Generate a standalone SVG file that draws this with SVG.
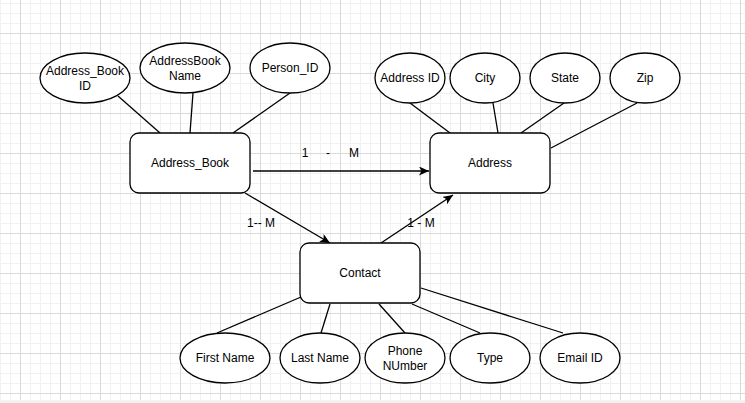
<svg xmlns="http://www.w3.org/2000/svg" width="745" height="403" viewBox="0 0 745 403">
<style>
.n{fill:#fff;stroke:#000;stroke-width:1.3}
.t{font-family:"Liberation Sans",Arial,sans-serif;font-size:12px;fill:#000;text-anchor:middle}
.c{stroke:#000;stroke-width:1.3;fill:none}
</style>
<defs>
<pattern id="minor" patternUnits="userSpaceOnUse" x="0" y="3" width="10" height="10">
<path d="M0.5 0V10M0 0.5H10" stroke="#f1f1f1" stroke-width="1" fill="none"/>
</pattern>
<pattern id="major" patternUnits="userSpaceOnUse" x="20" y="33" width="40" height="40">
<path d="M0.5 0V40M0 0.5H40" stroke="#dadada" stroke-width="1" fill="none"/>
</pattern>
<marker id="arr" markerUnits="userSpaceOnUse" markerWidth="12" markerHeight="10" refX="10" refY="4.5" orient="auto">
<path d="M0,0 L10,4.5 L0,9 L2.5,4.5 Z" fill="#000"/>
</marker>
</defs>
<rect width="745" height="403" fill="#fff"/>
<rect width="745" height="400" fill="url(#minor)"/>
<rect width="745" height="400" fill="url(#major)"/>
<rect y="400" width="745" height="3" fill="#f2f2f2"/>

<g id="connectors">
<line class="c" x1="118" y1="96" x2="160" y2="133"/>
<line class="c" x1="193" y1="93" x2="190" y2="133"/>
<line class="c" x1="290" y1="93" x2="233" y2="133"/>
<line class="c" x1="410" y1="103" x2="450" y2="133"/>
<line class="c" x1="493" y1="103" x2="498" y2="133"/>
<line class="c" x1="564" y1="103" x2="521" y2="133"/>
<line class="c" x1="637" y1="103" x2="551" y2="148"/>
<line class="c" x1="253" y1="171" x2="429" y2="171" marker-end="url(#arr)"/>
<line class="c" x1="245" y1="193" x2="330" y2="243" marker-end="url(#arr)"/>
<line class="c" x1="381" y1="243" x2="453" y2="195" marker-end="url(#arr)"/>
<line class="c" x1="301" y1="297" x2="217" y2="333"/>
<line class="c" x1="330" y1="304" x2="321" y2="333"/>
<line class="c" x1="379" y1="304" x2="405" y2="333"/>
<line class="c" x1="412" y1="304" x2="480" y2="333"/>
<line class="c" x1="421" y1="288" x2="563" y2="333"/>
<text class="t" x="305" y="157">1</text>
<text class="t" x="328" y="157">-</text>
<text class="t" x="354" y="157">M</text>
<text class="t" x="261" y="227">1-- M</text>
<text class="t" x="421" y="227">1 - M</text>
</g>

<g id="address_book">
<rect class="n" x="130" y="133" width="120" height="60" rx="9"/>
<text class="t" x="190" y="167">Address_Book</text>
</g>
<g id="address">
<rect class="n" x="430" y="133" width="120" height="60" rx="9"/>
<text class="t" x="490" y="167">Address</text>
</g>
<g id="contact">
<rect class="n" x="300" y="243" width="120" height="60" rx="9"/>
<text class="t" x="360" y="277">Contact</text>
</g>

<g id="attr_address_book_id">
<ellipse class="n" cx="85" cy="78" rx="45" ry="25"/>
<text class="t" x="85" y="75">Address_Book</text>
<text class="t" x="85" y="90">ID</text>
</g>
<g id="attr_addressbook_name">
<ellipse class="n" cx="185" cy="68" rx="45" ry="25"/>
<text class="t" x="185" y="65">AddressBook</text>
<text class="t" x="185" y="80">Name</text>
</g>
<g id="attr_person_id">
<ellipse class="n" cx="290" cy="68" rx="40" ry="25"/>
<text class="t" x="290" y="72">Person_ID</text>
</g>
<g id="attr_address_id">
<ellipse class="n" cx="410" cy="78" rx="35" ry="25"/>
<text class="t" x="410" y="82">Address ID</text>
</g>
<g id="attr_city">
<ellipse class="n" cx="485" cy="78" rx="35" ry="25"/>
<text class="t" x="485" y="82">City</text>
</g>
<g id="attr_state">
<ellipse class="n" cx="565" cy="78" rx="35" ry="25"/>
<text class="t" x="565" y="82">State</text>
</g>
<g id="attr_zip">
<ellipse class="n" cx="645" cy="78" rx="35" ry="25"/>
<text class="t" x="645" y="82">Zip</text>
</g>
<g id="attr_first_name">
<ellipse class="n" cx="225" cy="358" rx="45" ry="25"/>
<text class="t" x="225" y="362">First Name</text>
</g>
<g id="attr_last_name">
<ellipse class="n" cx="320" cy="358" rx="40" ry="25"/>
<text class="t" x="320" y="362">Last Name</text>
</g>
<g id="attr_phone_number">
<ellipse class="n" cx="405" cy="358" rx="40" ry="25"/>
<text class="t" x="405" y="355">Phone</text>
<text class="t" x="405" y="370">NUmber</text>
</g>
<g id="attr_type">
<ellipse class="n" cx="490" cy="358" rx="40" ry="25"/>
<text class="t" x="490" y="362">Type</text>
</g>
<g id="attr_email_id">
<ellipse class="n" cx="580" cy="358" rx="40" ry="25"/>
<text class="t" x="580" y="362">Email ID</text>
</g>
</svg>
